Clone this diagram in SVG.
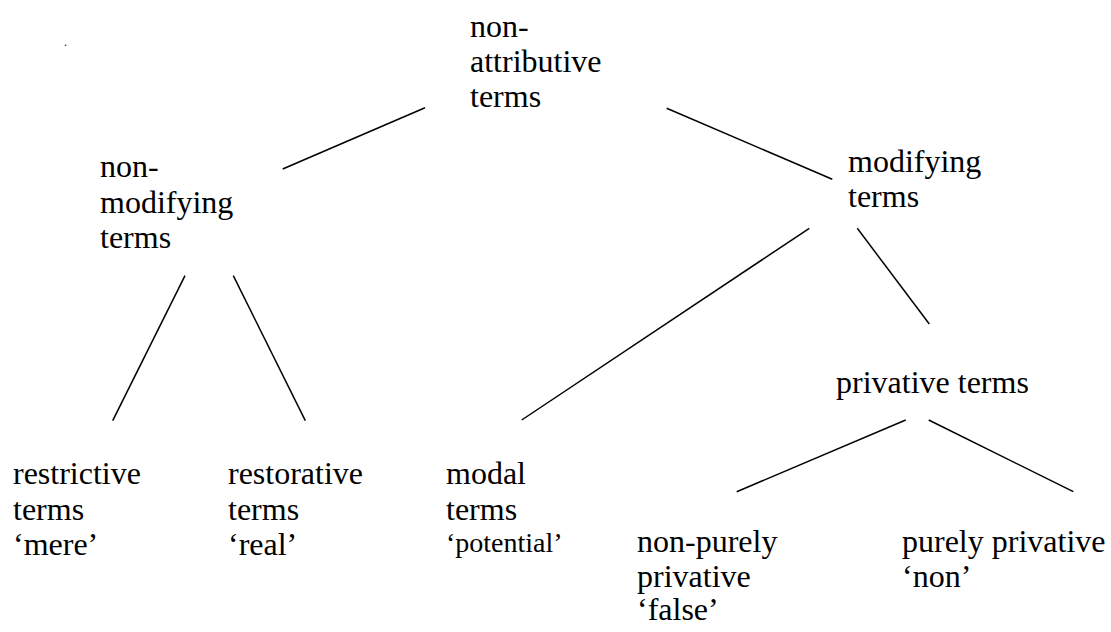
<svg xmlns="http://www.w3.org/2000/svg" width="1111" height="632" viewBox="0 0 1111 632">
<style>
text{font-family:'Liberation Serif','DejaVu Serif',serif;font-size:32px;fill:#000}
.sm{font-size:28px}
.dot{font-size:12px}
#connectors line{stroke:#000;stroke-width:1.5;stroke-linecap:butt}
</style>
<rect width="1111" height="632" fill="#fff"/>
<text class="dot" x="64" y="46">.</text>
<g id="connectors">
<line x1="425" y1="107.7" x2="282.7" y2="169"/>
<line x1="666.7" y1="108.3" x2="832.3" y2="179.3"/>
<line x1="185" y1="275.7" x2="112.7" y2="420.7"/>
<line x1="233.3" y1="275.7" x2="305.3" y2="420.7"/>
<line x1="809.3" y1="228.3" x2="521.7" y2="420"/>
<line x1="857.3" y1="228.3" x2="929.3" y2="324"/>
<line x1="905.7" y1="420" x2="736.7" y2="491.7"/>
<line x1="928.7" y1="420" x2="1073.3" y2="491.7"/>
</g>
<g id="n-root"><text x="470" y="37">non-</text><text x="470" y="72">attributive</text><text x="470" y="107">terms</text></g>
<g id="n-nonmod"><text x="100" y="177">non-</text><text x="100" y="213">modifying</text><text x="100" y="248">terms</text></g>
<g id="n-mod"><text x="848" y="172">modifying</text><text x="848" y="207">terms</text></g>
<g id="n-priv"><text x="836" y="393">privative terms</text></g>
<g id="n-restrictive"><text x="13" y="484">restrictive</text><text x="13" y="520">terms</text><text x="13" y="555">‘mere’</text></g>
<g id="n-restorative"><text x="228" y="484">restorative</text><text x="228" y="520">terms</text><text x="228" y="555">‘real’</text></g>
<g id="n-modal"><text x="446" y="484">modal</text><text x="446" y="520">terms</text><text class="sm" x="446" y="552">‘potential’</text></g>
<g id="n-nonpure"><text x="637" y="552">non-purely</text><text x="637" y="587">privative</text><text x="637" y="620">‘false’</text></g>
<g id="n-pure"><text x="902" y="552">purely privative</text><text x="902" y="587">‘non’</text></g>
</svg>
